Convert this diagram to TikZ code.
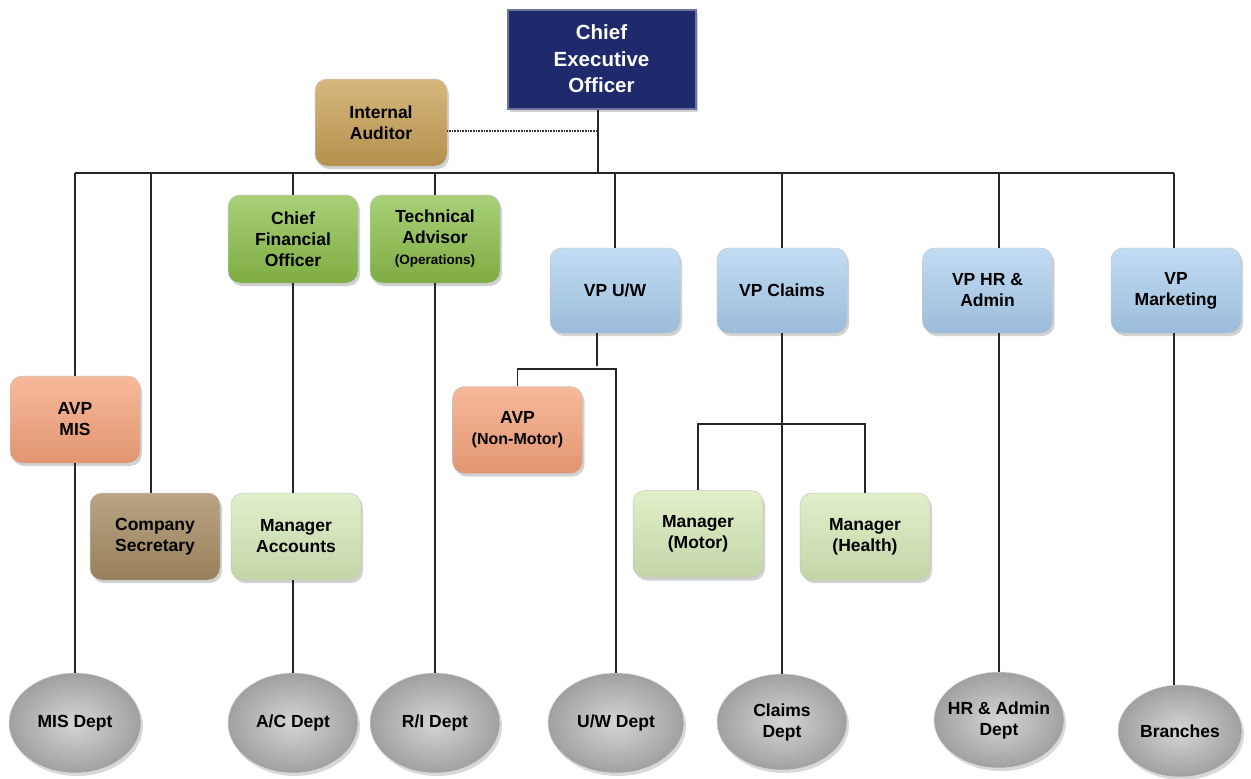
\documentclass[tikz,border=0pt]{standalone}
\usepackage{fontspec}
\setmainfont{Liberation Sans}
\usetikzlibrary{shapes.geometric,shadows}

\definecolor{ceoblue}{RGB}{30,42,108}
\definecolor{audgold}{RGB}{200,160,84}
\definecolor{secbrown}{RGB}{168,142,100}
\definecolor{cfogreen}{RGB}{140,192,74}
\definecolor{mgrgreen}{RGB}{212,232,180}
\definecolor{vpblue}{RGB}{168,205,237}
\definecolor{avporange}{RGB}{245,162,122}
\definecolor{deptgray}{RGB}{178,178,178}

\begin{document}
\begin{tikzpicture}[x=1pt,y=1pt,yscale=-1,xscale=1,
  box/.style={rounded corners=12pt, minimum width=130pt, minimum height=87pt, align=center,
    font=\fontsize{17.5}{21}\selectfont\bfseries, draw=white!55!gray, line width=0.5pt,
    drop shadow={opacity=0.35, shadow xshift=2pt, shadow yshift=-3pt}},
  ceobox/.style={minimum width=188pt, minimum height=99pt, align=center, text=white,
    font=\fontsize{20.5}{26.5}\selectfont\bfseries, fill=ceoblue, draw=ceoblue!65!white, line width=2pt,
    drop shadow={opacity=0.35, shadow xshift=2pt, shadow yshift=-3pt}},
  gold/.style={box, top color=audgold!75!white, bottom color=audgold!90!black},
  brown/.style={box, top color=secbrown!80!white, bottom color=secbrown!90!black},
  green/.style={box, top color=cfogreen!75!white, bottom color=cfogreen!90!black},
  lgreen/.style={box, top color=mgrgreen!70!white, bottom color=mgrgreen!92!black},
  blue/.style={box, top color=vpblue!70!white, bottom color=vpblue!92!black},
  orange/.style={box, top color=avporange!75!white, bottom color=avporange!92!black},
  dept/.style={ellipse, minimum width=132pt, minimum height=100pt, align=center, inner sep=0pt,
    font=\fontsize{17.5}{21}\selectfont\bfseries, inner color=deptgray!55!white, outer color=deptgray!90!black,
    draw=white!70!gray, line width=0.5pt,
    drop shadow={opacity=0.3, shadow xshift=2pt, shadow yshift=-3pt}},
  link/.style={line width=1.3pt, black!85},
  dotline/.style={line width=1.3pt, dash pattern=on 0.8pt off 0.8pt, black!80}]
\path[use as bounding box, fill=white] (0,0) rectangle (1251,779);

%Top level
\node[ceobox] (ceo) at (601.5,59) {Chief\\Executive\\Officer};
\node[gold, minimum width=132pt] (audit) at (381,122.5) {Internal\\Auditor};

%Second level
\node[green, minimum height=88pt] (cfo) at (293,239) {Chief\\Financial\\Officer};
\node[green, minimum height=88pt] (tech) at (435,239) {Technical\\Advisor\\{\fontsize{13.5}{16}\selectfont(Operations)}};
\node[blue, minimum height=85pt] (vpuw) at (615,290.5) {VP U/W};
\node[blue, minimum height=85pt] (vpclaims) at (782,290.5) {VP Claims};
\node[blue, minimum height=85pt] (vphr) at (987.5,290.5) {VP HR \&\\Admin};
\node[blue, minimum height=85pt] (vpmkt) at (1176,290.5) {VP\\Marketing};

%Third level
\node[orange] (avpmis) at (75,419.5) {AVP\\MIS};
\node[orange] (avpnm) at (517.5,430) {AVP\\{\fontsize{16}{20}\selectfont(Non-Motor)}};
\node[brown] (secr) at (155,536.5) {Company\\Secretary};
\node[lgreen] (mgracc) at (296,536.5) {Manager\\Accounts};
\node[lgreen] (mgrmotor) at (698,534) {Manager\\(Motor)};
\node[lgreen] (mgrhealth) at (865,536.5) {Manager\\(Health)};

%Departments
\node[dept] (misdept) at (75,723) {MIS Dept};
\node[dept, minimum width=130pt] (acdept) at (293,723) {A/C Dept};
\node[dept, minimum width=130pt] (ridept) at (435,723) {R/I Dept};
\node[dept, minimum width=136pt] (uwdept) at (616,723) {U/W Dept};
\node[dept, minimum width=130pt, minimum height=96pt] (claimsdept) at (782,722) {Claims\\Dept};
\node[dept, minimum width=130pt, minimum height=96pt, inner xsep=-10pt] (hrdept) at (999,720) {HR \& Admin\\Dept};
\node[dept, minimum width=124pt, minimum height=92pt] (branches) at (1180,731) {Branches};

%Junctions
\coordinate (busL) at (75,173);
\coordinate (busR) at (1174,173);
\coordinate (ceoj) at (598,173);
\coordinate (dotj) at (598,131);
\coordinate (secj) at (151,173);
\coordinate (uwj) at (597,369);
\coordinate (clj) at (782,424);

%Connectors
\draw[link] (busL) -- (busR);
\draw[link] (ceo.south -| ceoj) -- (ceoj);
\draw[dotline] (audit.east |- dotj) -- (dotj);
\draw[link] (busL) -- (avpmis.north);
\draw[link] (avpmis.south) -- (misdept.north);
\draw[link] (secj) -- (secj |- secr.north);
\draw[link] (cfo.north |- busL) -- (cfo.north);
\draw[link] (cfo.south) -- (cfo.south |- mgracc.north);
\draw[link] (acdept.north |- mgracc.south) -- (acdept.north);
\draw[link] (tech.north |- busL) -- (tech.north);
\draw[link] (tech.south) -- (ridept.north);
\draw[link] (vpuw.north |- busL) -- (vpuw.north);
\draw[link] (vpuw.south -| uwj) -- ([yshift=-3pt]uwj);
\draw[link] (avpnm.north) |- (uwdept.north |- uwj) -- (uwdept.north);
\draw[link] (vpclaims.north |- busL) -- (vpclaims.north);
\draw[link] (vpclaims.south -| clj) -- (claimsdept.north);
\draw[link] (mgrmotor.north) |- (mgrhealth.north |- clj) -- (mgrhealth.north);
\draw[link] (hrdept.north |- busL) -- (hrdept.north |- vphr.north);
\draw[link] (hrdept.north |- vphr.south) -- (hrdept.north);
\draw[link] (busR) -- (busR |- vpmkt.north);
\draw[link] (busR |- vpmkt.south) -- (busR |- branches.north);

\end{tikzpicture}
\end{document}
